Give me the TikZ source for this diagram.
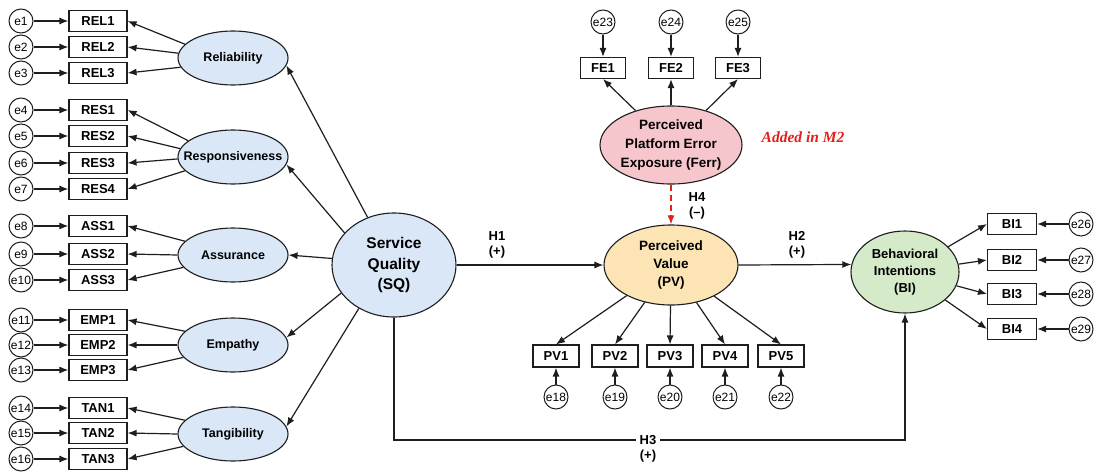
\documentclass[tikz,border=0pt]{standalone}
\usepackage{fontspec}
\setmainfont{Liberation Sans}
\newfontfamily\notefont{Liberation Serif}
\usetikzlibrary{arrows.meta,shapes.geometric}

\definecolor{linec}{HTML}{1E1E1E}
\definecolor{bluef}{HTML}{D9E7F7}
\definecolor{valuef}{HTML}{FCE4B4}
\definecolor{errorf}{HTML}{F7C6CC}
\definecolor{intentf}{HTML}{D4EAC8}
\definecolor{hred}{HTML}{E3201B}

\begin{document}
\begin{tikzpicture}[x=1pt,y=-1pt,
  lat/.style={ellipse, draw=linec, line width=1.1pt, inner sep=0pt},
  lattxt/.style={align=center, inner sep=0pt, font=\fontsize{12.5}{17}\selectfont\bfseries},
  ind/.style={rectangle, draw=linec, line width=1.1pt, fill=white, inner sep=0pt,
              minimum height=21pt, font=\fontsize{13}{15}\selectfont\bfseries},
  err/.style={circle, draw=linec, line width=1pt, fill=white, inner sep=0pt,
              minimum size=24pt, font=\fontsize{12}{14}\selectfont},
  arr/.style={draw=linec, line width=1.2pt, -{Latex[length=9pt,width=7pt]}},
  hyp/.style={align=center, inner sep=1pt, font=\fontsize{13}{15}\selectfont\bfseries}]

\useasboundingbox (0,0) rectangle (1094,471);
\fill[white] (0,0) rectangle (1094,471);

% ---- first-order dimensions of service quality ----
\foreach \n/\t/\y in {Rel/Reliability/58, Res/Responsiveness/157, Ass/Assurance/255,
                      Emp/Empathy/345, Tan/Tangibility/434}{
  \node[lat, fill=bluef, minimum width=110pt, minimum height=54pt] (\n) at (233,\y) {};
  \node[lattxt, font=\fontsize{12.5}{14}\selectfont\bfseries] (\n T) at (\n) {\t};
}

% ---- their indicators and error terms ----
\foreach \lab/\y/\e/\f/\a in {REL1/21/e1/Rel/164, REL2/47/e2/Rel/175, REL3/73/e3/Rel/190,
    RES1/110/e4/Res/160, RES2/136/e5/Res/171, RES3/163/e6/Res/182, RES4/189/e7/Res/196,
    ASS1/226/e8/Ass/164, ASS2/254/e9/Ass/180, ASS3/280/e10/Ass/194,
    EMP1/320/e11/Emp/164, EMP2/345/e12/Emp/180, EMP3/370/e13/Emp/194,
    TAN1/408/e14/Tan/164, TAN2/433/e15/Tan/180, TAN3/459/e16/Tan/194}{
  \node[ind, minimum width=58pt] (\lab) at (98,\y) {\lab};
  \node[err] (\e) at (21,\y) {\e};
  \draw[arr] (\e) -- (\lab);
  \draw[arr] (\f.\a) -- (\lab.east);
}

% ---- service quality ----
\node[lat, fill=bluef, minimum width=124pt, minimum height=104pt] (SQ) at (394,265) {};
\node[lattxt, font=\fontsize{15.5}{20.5}\selectfont\bfseries] (SQT) at (SQ) {Service\\Quality\\(SQ)};

\draw[arr] (SQ.119) -- (Rel.-8);
\draw[arr] (SQ.147) -- (Res.-8);
\draw[arr] (SQ.174) -- (Ass.east);
\draw[arr] (SQ.208) -- (Emp.8);
\draw[arr] (SQ.231) -- (Tan.8);

% ---- perceived value ----
\node[lat, fill=valuef, minimum width=134pt, minimum height=80pt] (PV) at (671,265) {};
\node[lattxt, font=\fontsize{13.5}{18}\selectfont\bfseries] (PVT) at (PV) {Perceived\\Value\\(PV)};

\foreach \lab/\x/\e in {PV1/556/e18, PV2/615/e19, PV3/670/e20, PV4/725/e21, PV5/781/e22}{
  \node[ind, minimum width=46pt, minimum height=22pt] (\lab) at (\x,356) {\lab};
  \node[err] (\e) at (\x,397) {\e};
  \draw[arr] (\e) -- (\lab);
  \draw[arr] (PV) -- (\lab.north);
}

% ---- perceived platform error exposure ----
\node[lat, fill=errorf, minimum width=142pt, minimum height=78pt] (PE) at (671,145) {};
\node[lattxt, font=\fontsize{13.5}{19}\selectfont\bfseries] (PET) at (PE) {Perceived\\Platform Error\\Exposure (Ferr)};

\foreach \lab/\x/\e in {FE1/603/e23, FE2/671/e24, FE3/738/e25}{
  \node[ind, minimum width=45pt] (\lab) at (\x,68) {\lab};
  \node[err] (\e) at (\x,22) {\e};
  \draw[arr] (\e) -- (\lab);
  \draw[arr] (PE) -- (\lab.south);
}

\node[font=\notefont\fontsize{15.5}{17}\selectfont\bfseries\itshape, text=hred, inner sep=0pt]
  (note) at (803,137) {Added in M2};

% ---- behavioral intentions ----
\node[lat, fill=intentf, minimum width=108pt, minimum height=82pt] (BI) at (905,272) {};
\node[lattxt, font=\fontsize{13}{17}\selectfont\bfseries] (BIT) at (BI) {Behavioral\\Intentions\\(BI)};

\foreach \lab/\y/\e in {BI1/224/e26, BI2/260/e27, BI3/294/e28, BI4/329/e29}{
  \node[ind, minimum width=49pt] (\lab) at (1012,\y) {\lab};
  \node[err] (\e) at (1081,\y) {\e};
  \draw[arr] (\e) -- (\lab);
  \draw[arr] (BI) -- (\lab.west);
}

% ---- structural paths ----
\draw[arr] (SQ) -- (PV);
\node[hyp] (h1) at (497,245) {H1\\(+)};

\draw[arr] (PV.east) -- (BI.172);
\node[hyp] (h2) at (797,245) {H2\\(+)};

\draw[draw=hred, line width=1.3pt, dash pattern=on 6pt off 4pt,
      -{Latex[length=9pt,width=7pt]}, hred] (PE) -- (PV);
\node[hyp] (h4) at (697,206) {H4\\(--)};

\coordinate (h3y) at (0,440);
\draw[arr] (SQ.south) -- (SQ.south |- h3y) -| (BI.south);
\node[hyp, fill=white, inner xsep=4pt, inner ysep=2pt] (h3) at (648,440) {H3};
\node[hyp] (h3s) at (648,456) {(+)};

\end{tikzpicture}
\end{document}
